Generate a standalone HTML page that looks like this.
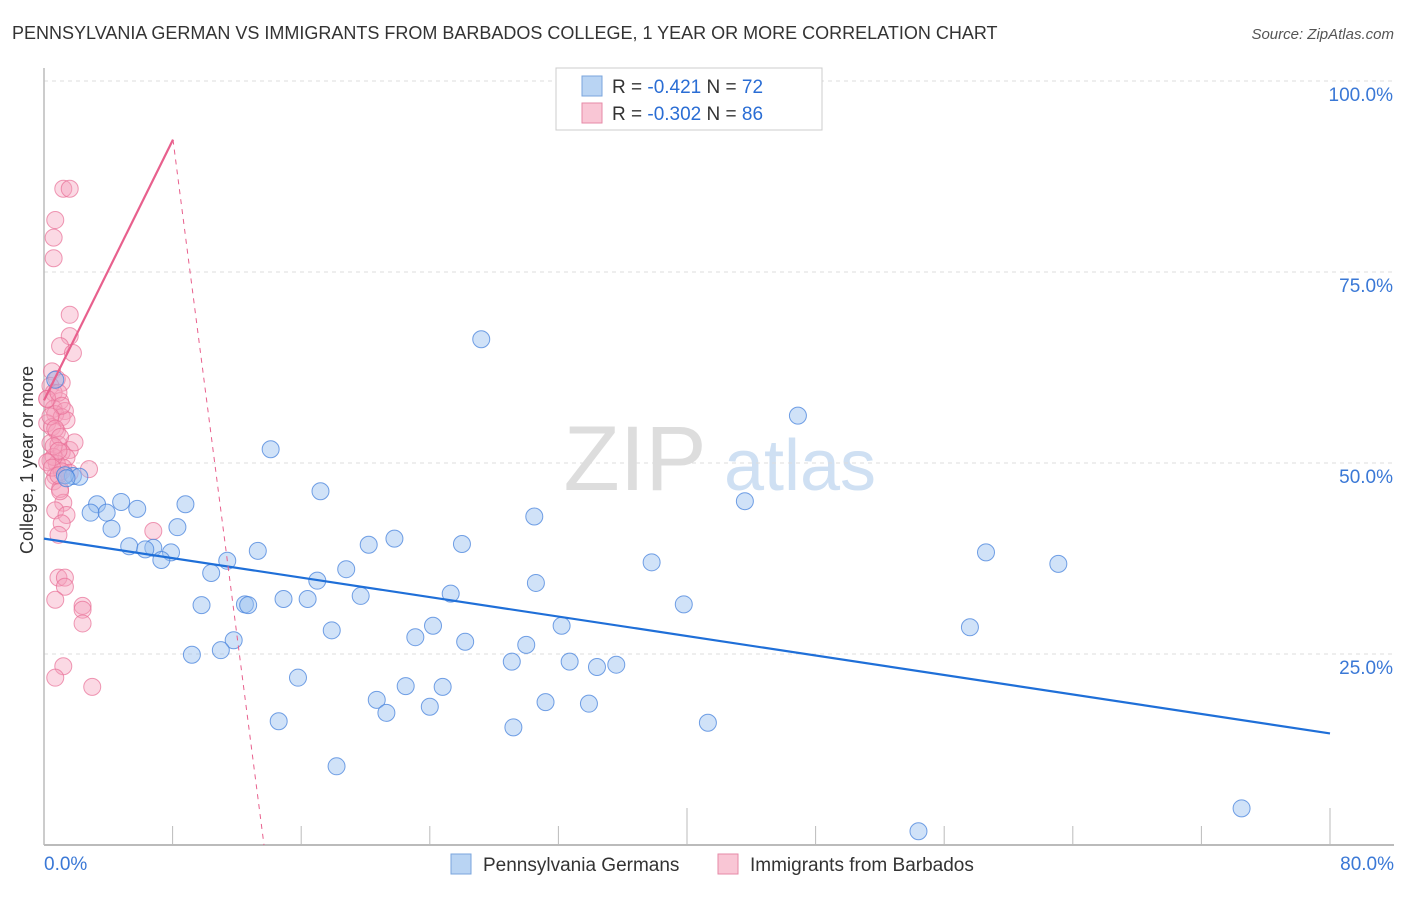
<!DOCTYPE html>
<html><head><meta charset="utf-8"><style>
body{margin:0;background:#fff;font-family:"Liberation Sans",sans-serif}
svg text{font-family:"Liberation Sans",sans-serif}
</style></head><body>
<svg id="c" width="1406" height="892" xmlns="http://www.w3.org/2000/svg">
<text x="12" y="39" font-size="18" fill="#333">PENNSYLVANIA GERMAN VS IMMIGRANTS FROM BARBADOS COLLEGE, 1 YEAR OR MORE CORRELATION CHART</text>
<text x="1394" y="39" font-size="15" fill="#555" font-style="italic" text-anchor="end">Source: ZipAtlas.com</text>
<text x="33" y="460" font-size="18" fill="#333" transform="rotate(-90 33 460)" text-anchor="middle">College, 1 year or more</text>
<g><text x="635" y="490" font-size="92" fill="#ddd" font-family="Liberation Serif" text-anchor="middle">ZIP</text><text x="800" y="490" font-size="72" fill="#cfe0f3" text-anchor="middle">atlas</text></g>
<g id="grid"></g><g id="marks"></g>
<g>
<rect x="556" y="68" width="266" height="62" fill="#fff" stroke="#ccc"/>
<rect x="582" y="76" width="20" height="20" fill="#b9d4f3" stroke="#7aa5dc"/>
<text x="612" y="93" font-size="19" fill="#333">R = <tspan fill="#2a6dd4"> -0.421</tspan>   N = <tspan fill="#2a6dd4">72</tspan></text>
<rect x="582" y="103" width="20" height="20" fill="#f9c6d5" stroke="#e68aa7"/>
<text x="612" y="120" font-size="19" fill="#333">R = <tspan fill="#2a6dd4">-0.302</tspan>   N = <tspan fill="#2a6dd4">86</tspan></text>
</g>
<g>
<rect x="451" y="854" width="20" height="20" fill="#b9d4f3" stroke="#7aa5dc"/>
<text x="483" y="871" font-size="19" fill="#333">Pennsylvania Germans</text>
<rect x="718" y="854" width="20" height="20" fill="#f9c6d5" stroke="#e68aa7"/>
<text x="750" y="871" font-size="19" fill="#333">Immigrants from Barbados</text>
</g>
</svg>
<script>
const xTicks=[0,8,16,24,32,40,48,56,64,72,80];
const yTicks=[25,50,75,100];
const blueX=[27.2,46.9,14.1,17.2,8.8,43.6,30.5,3.3,4.8,5.8,2.9,3.9,4.2,8.3,5.3,6.8,6.3,7.9,7.3,13.3,11.4,10.4,20.2,21.8,26.0,37.8,58.6,63.1,18.8,17.0,30.6,25.3,19.7,14.9,16.4,12.5,12.7,9.8,39.8,57.6,17.9,24.2,32.2,23.1,26.2,30.0,11.8,11.0,9.2,29.1,32.7,34.4,35.6,15.8,22.5,24.8,20.7,31.2,33.9,21.3,24.0,14.6,29.2,41.3,18.2,54.4,74.5,0.7,1.8,2.2,1.3,1.4];
const blueY=[66.2,56.2,51.8,46.3,44.6,45.0,43.0,44.6,44.9,44.0,43.5,43.5,41.4,41.6,39.1,38.9,38.7,38.3,37.3,38.5,37.2,35.6,39.3,40.1,39.4,37.0,38.3,36.8,36.1,34.6,34.3,32.9,32.6,32.2,32.2,31.5,31.4,31.4,31.5,28.5,28.1,28.7,28.7,27.2,26.6,26.2,26.8,25.5,24.9,24.0,24.0,23.3,23.6,21.9,20.8,20.7,19.0,18.7,18.5,17.3,18.1,16.2,15.4,16.0,10.3,1.8,4.8,60.9,48.3,48.2,48.4,48.0];
const pinkX=[1.2,1.6,0.7,0.6,0.6,1.6,1.6,1.0,1.8,0.5,0.8,1.1,0.4,0.6,0.2,1.0,0.6,1.3,0.7,1.1,0.2,0.5,0.8,1.4,0.4,0.9,1.6,1.9,1.1,1.4,0.4,0.8,1.2,1.6,2.8,0.7,1.1,0.6,1.0,1.2,0.7,1.4,1.1,0.9,6.8,0.9,1.3,1.3,0.7,2.4,2.4,2.4,1.2,0.7,3.0,0.2,0.6,0.9,1.1,0.4,0.7,1.0,0.6,0.9,0.2,0.5,0.9,1.0];
const pinkY=[85.9,85.9,81.8,79.5,76.8,69.4,66.6,65.3,64.4,62.0,61.0,60.5,60.1,59.2,58.4,58.1,57.1,56.8,56.4,56.0,55.2,54.7,54.1,55.6,52.6,52.4,51.7,52.7,51.4,50.7,50.3,49.9,49.4,48.7,49.2,48.3,48.9,47.6,46.6,44.8,43.8,43.2,42.1,40.6,41.1,35.0,35.0,33.8,32.1,31.3,30.8,29.0,23.4,21.9,20.7,58.4,50.8,59.2,57.5,56.1,54.5,53.4,52.2,51.6,50.1,49.4,48.4,46.3];
const blueFit=[40.1,14.6];
const pinkFit=[58.2,0];
const NS='http://www.w3.org/2000/svg';
const xs=v=>44+v/80*1286, ys=v=>845-v/100*764;
const grid=document.getElementById('grid'), marks=document.getElementById('marks');
function mk(p,tag,a){const e=document.createElementNS(NS,tag);for(const k in a)e.setAttribute(k,a[k]);p.appendChild(e);return e;}
yTicks.forEach(t=>{
 const l=mk(grid,'line',{x1:44,x2:1394,y1:ys(t),y2:ys(t),stroke:'#ddd','stroke-dasharray':'4 4'});
 
 
 const tx=mk(grid,'text',{x:1393,y:ys(t)+20,'font-size':19,fill:'#3a78d6','text-anchor':'end'});
 tx.textContent=t.toFixed(1)+'%';
 
 
});
const ax=mk(grid,'line',{x1:44,x2:1394,y1:845,y2:845,stroke:'#bbb','stroke-width':2});


const ay=mk(grid,'line',{x1:44,x2:44,y1:68,y2:845,stroke:'#bbb','stroke-width':1.5});


xTicks.forEach((t,i)=>{
 const l=mk(grid,'line',{x1:xs(t),x2:xs(t),y1:(i%5==0)?808:826,y2:845,stroke:'#bbb'});
 
 
});
[[0,'start',44],[80,'end',1394]].forEach(([v,an,x])=>{
 const tx=mk(grid,'text',{x:x,y:870,'font-size':19,fill:'#3a78d6','text-anchor':an});
 tx.textContent=v.toFixed(1)+'%';
 
 
});
pinkX.forEach((v,i)=>{
 const c=mk(marks,'circle',{cx:xs(v),cy:ys(pinkY[i]),r:8.5,fill:'rgba(246,160,188,0.4)',stroke:'rgba(232,110,150,0.7)'});
 
 
});
blueX.forEach((v,i)=>{
 const c=mk(marks,'circle',{cx:xs(v),cy:ys(blueY[i]),r:8.5,fill:'rgba(150,190,240,0.45)',stroke:'rgba(70,130,220,0.75)'});
 
 
});
const bl=mk(marks,'line',{x1:xs(0),y1:ys(blueFit[0]),x2:xs(80),y2:ys(blueFit[1]),stroke:'#1f6fd8','stroke-width':2.2});


const slope=(ys(pinkFit[0])-845)/(xs(0)-264);
const yAt=x=>ys(pinkFit[0])+(x-44)*(-slope);
const p1=mk(marks,'line',{x1:44,y1:ys(pinkFit[0]),x2:173,y2:yAt(173),stroke:'#e8608d','stroke-width':2.2});


const p2=mk(marks,'line',{x1:173,y1:yAt(173),x2:264,y2:845,stroke:'#e8608d','stroke-width':1,'stroke-dasharray':'5 5'});


</script>
</body></html>
